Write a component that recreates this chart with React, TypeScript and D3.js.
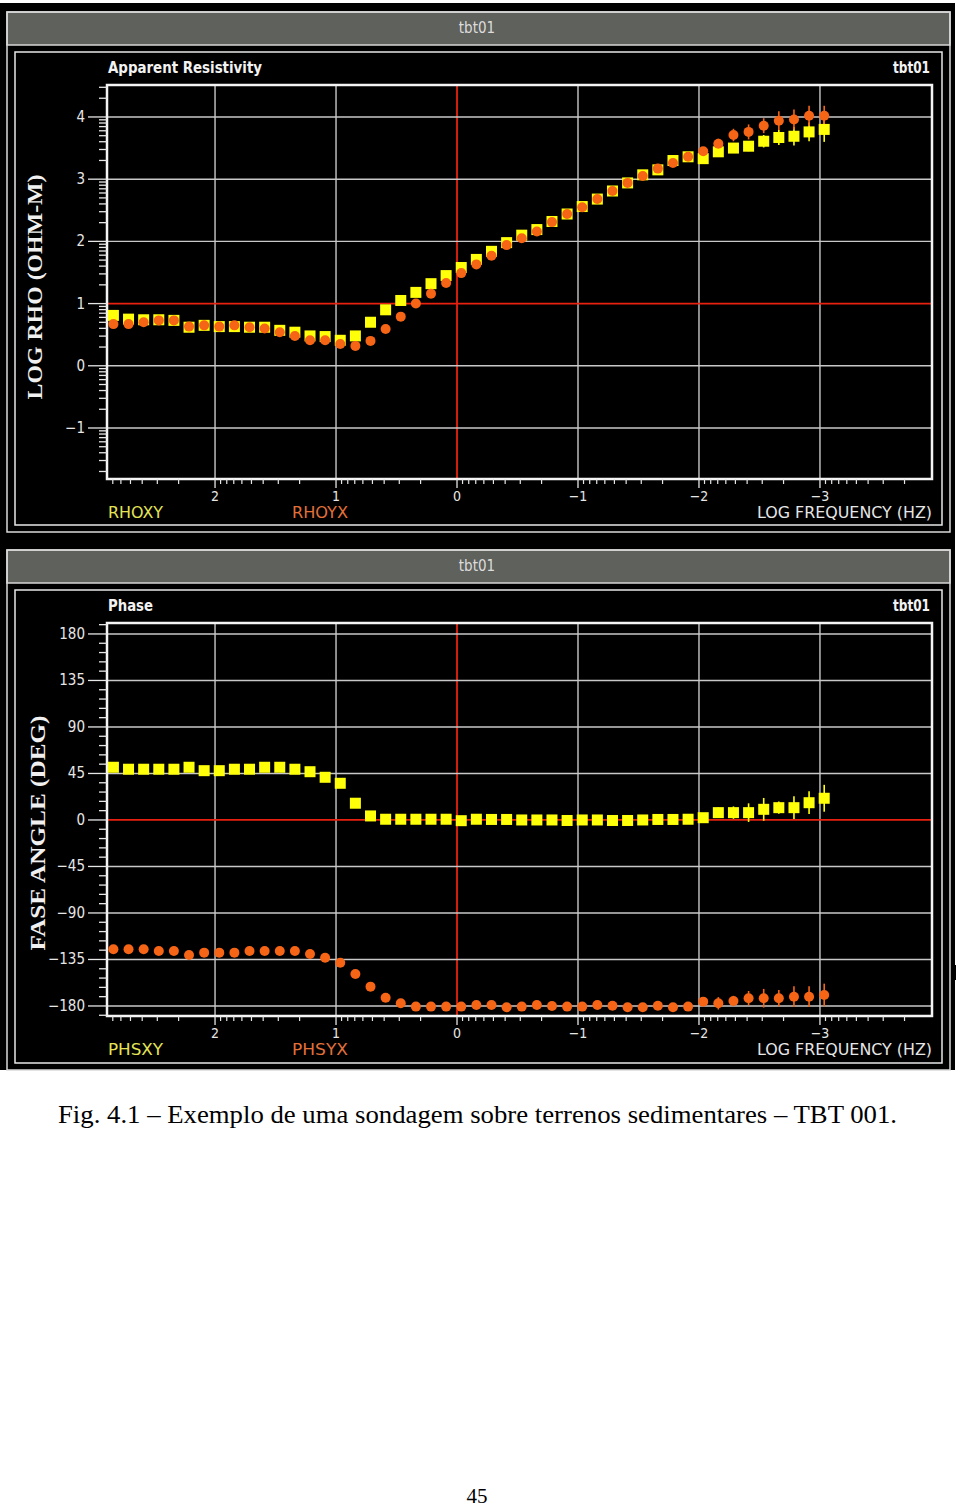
import React from 'react';
import * as d3 from 'd3';

// ---------- DATA ----------
const logFreq = [2.84, 2.715, 2.59, 2.465, 2.34, 2.215, 2.09, 1.965, 1.84, 1.715, 1.59, 1.465, 1.34, 1.215, 1.09, 0.965,
  0.84, 0.715, 0.59, 0.465, 0.34, 0.215, 0.09, -0.035, -0.16, -0.285, -0.41, -0.535, -0.66, -0.785, -0.91, -1.035,
  -1.16, -1.285, -1.41, -1.535, -1.66, -1.785, -1.91, -2.035, -2.16, -2.285, -2.41, -2.535, -2.66, -2.785, -2.91, -3.035];

const rhoXY = [0.81, 0.75, 0.74, 0.74, 0.73, 0.62, 0.65, 0.63, 0.63, 0.62, 0.62, 0.57, 0.54, 0.48, 0.47, 0.41,
  0.48, 0.70, 0.90, 1.05, 1.18, 1.32, 1.45, 1.58, 1.71, 1.84, 1.98, 2.10, 2.19, 2.32, 2.44, 2.56,
  2.68, 2.81, 2.94, 3.07, 3.15, 3.30, 3.36, 3.33, 3.44, 3.50, 3.53, 3.61, 3.67, 3.69, 3.76, 3.80];
const rhoYX = [0.67, 0.67, 0.70, 0.73, 0.73, 0.63, 0.65, 0.63, 0.65, 0.62, 0.60, 0.54, 0.48, 0.41, 0.41, 0.35,
  0.32, 0.40, 0.59, 0.79, 1.00, 1.16, 1.33, 1.49, 1.63, 1.77, 1.94, 2.05, 2.16, 2.31, 2.44, 2.55,
  2.68, 2.81, 2.94, 3.05, 3.17, 3.26, 3.36, 3.45, 3.57, 3.71, 3.76, 3.86, 3.94, 3.96, 4.02, 4.02];
const rhoXYErr = [0, 0, 0, 0, 0, 0, 0, 0, 0, 0, 0, 0, 0, 0, 0, 0,
  0, 0, 0, 0, 0, 0, 0, 0, 0, 0, 0, 0, 0, 0, 0, 0,
  0, 0, 0, 0, 0, 0, 0, 0, 0.03, 0.06, 0.08, 0.10, 0.12, 0.15, 0.15, 0.20];
const rhoYXErr = [0, 0, 0, 0, 0, 0, 0, 0, 0, 0, 0, 0, 0, 0, 0, 0,
  0.06, 0, 0, 0, 0, 0, 0, 0, 0, 0, 0, 0, 0, 0, 0, 0,
  0, 0, 0, 0, 0, 0, 0.04, 0.06, 0.08, 0.10, 0.12, 0.12, 0.15, 0.16, 0.16, 0.16];

const phsXY = [51.0, 49.1, 49.1, 49.1, 49.1, 51.0, 47.7, 47.7, 49.1, 49.1, 51.0, 51.0, 49.1, 46.7, 41.3, 35.5,
  16.2, 3.9, 0.7, 0.7, 0.7, 0.7, 0.7, -0.7, 0.7, 0.5, 0.5, 0.0, 0.0, 0.0, -0.5, 0.0,
  0.0, -0.5, -0.5, 0.0, 0.5, 0.5, 0.7, 2.2, 7.1, 7.1, 7.1, 10.3, 11.9, 11.9, 16.7, 21.0];
const phsYX = [-125.1, -125.1, -125.1, -126.8, -126.8, -130.6, -128.4, -128.4, -128.4, -126.8, -126.8, -126.8, -126.8, -129.7, -133.3, -138.2,
  -149.0, -161.3, -172.0, -177.4, -180.6, -180.6, -180.6, -180.6, -179.0, -179.0, -181.3, -180.6, -179.0, -180.0, -180.6, -180.6,
  -179.0, -179.7, -181.3, -181.3, -179.7, -181.3, -180.6, -175.8, -177.4, -175.2, -172.5, -172.5, -172.5, -171.0, -171.0, -169.4];
const phsXYErr = [0, 0, 0, 0, 0, 0, 0, 0, 0, 0, 0, 0, 0, 0, 0, 0,
  0, 0, 0, 0, 0, 0, 0, 0, 0, 0, 0, 0, 0, 0, 0, 0,
  0, 0, 0, 0, 0, 0, 0, 2, 5, 6, 9, 11, 6, 11, 11, 13];
const phsYXErr = [0, 0, 0, 0, 0, 0, 0, 0, 0, 0, 0, 0, 0, 0, 4, 4,
  0, 0, 0, 0, 0, 0, 0, 0, 0, 0, 0, 0, 0, 0, 0, 0,
  0, 0, 0, 0, 0, 0, 0, 4, 6, 5, 7, 9, 8, 10, 10, 11];

const freqTicks = [2, 1, 0, -1, -2, -3];
const freqTickLabels = ['2', '1', '0', '−1', '−2', '−3'];
const rhoTicks = [4, 3, 2, 1, 0, -1];
const rhoTickLabels = ['4', '3', '2', '1', '0', '−1'];
const phaseTicks = [180, 135, 90, 45, 0, -45, -90, -135, -180];
const phaseTickLabels = ['180', '135', '90', '45', '0', '−45', '−90', '−135', '−180'];

// ---------- STYLE ----------
const UI = "'DejaVu Sans Condensed', 'DejaVu Sans', sans-serif";
const SERIF = "'Liberation Serif', 'DejaVu Serif', serif";
const YELLOW = '#ffff0a';
const ORANGE = '#f66416';
const RED = '#e8200f';
const GRID = '#c8c8c8';
const TXT = '#e6e6e6';

const X0 = 107, X1 = 932;
const xScale = d3.scaleLinear().domain([2.893, -3.926]).range([X0, X1]);

type PanelProps = {
  top: number;
  chartTitle: string;
  titleLen: number;
  y0: number;
  y1: number;
  yScale: d3.ScaleLinear<number, number>;
  yTicks: number[];
  yTickLabels: string[];
  yMinor: number[];
  yRef: number;
  leg1: string;
  leg2: string;
  s1: number[];
  s2: number[];
  e1: number[];
  e2: number[];
};

function xMinorTicks(): number[] {
  const out: number[] = [];
  const dom = xScale.domain();
  for (let d = -4; d <= 2; d++) {
    for (let k = 2; k <= 9; k++) {
      const v = d + Math.log10(k);
      if (v <= dom[0] && v >= dom[1]) out.push(v);
    }
  }
  return out;
}

function Panel(p: PanelProps) {
  const T = p.top;
  const ys = p.yScale;
  const minorX = xMinorTicks();
  return (
    <g>
      {/* grey title bar */}
      <rect x={7} y={T} width={943} height={33} fill="#5f615c" stroke="#d6d6d6" strokeWidth={1.5} />
      <text x={477} y={T + 21} fill="#dcdcdc" fontFamily={UI} fontSize={15} textAnchor="middle">tbt01</text>
      {/* frames */}
      <rect x={7} y={T} width={943} height={520} fill="none" stroke="#dadada" strokeWidth={1.5} />
      <rect x={15} y={T + 40} width={927} height={473} fill="none" stroke="#e8e8e8" strokeWidth={1.5} />
      {/* chart titles */}
      <text x={108} y={T + 61} fill="#f2f2f2" fontFamily={UI} fontSize={16} fontWeight="bold" textLength={p.titleLen} lengthAdjust="spacingAndGlyphs">{p.chartTitle}</text>
      <text x={930} y={T + 61} fill="#f2f2f2" fontFamily={UI} fontSize={16} fontWeight="bold" textAnchor="end" textLength={37} lengthAdjust="spacingAndGlyphs">tbt01</text>
      {/* grid */}
      {freqTicks.map((t, i) => (
        <line key={'gx' + i} x1={xScale(t)} x2={xScale(t)} y1={p.y0} y2={p.y1}
          stroke={t === 0 ? RED : GRID} strokeWidth={t === 0 ? 1.8 : 1.4} />
      ))}
      {p.yTicks.map((t, i) => (
        <line key={'gy' + i} x1={X0} x2={X1} y1={ys(t)} y2={ys(t)}
          stroke={t === p.yRef ? RED : GRID} strokeWidth={t === p.yRef ? 1.8 : 1.4} />
      ))}
      {/* plot frame */}
      <rect x={X0} y={p.y0} width={X1 - X0} height={p.y1 - p.y0} fill="none" stroke="#f4f4f4" strokeWidth={2.5} />
      {/* y ticks */}
      {p.yTicks.map((t, i) => (
        <g key={'yt' + i}>
          <line x1={88} x2={X0} y1={ys(t)} y2={ys(t)} stroke={TXT} strokeWidth={1.3} />
          <text x={85} y={ys(t)} fill={TXT} fontFamily={UI} fontSize={15} textAnchor="end" dominantBaseline="central">{p.yTickLabels[i]}</text>
        </g>
      ))}
      {p.yMinor.map((t, i) => (
        <line key={'ym' + i} x1={99} x2={X0} y1={ys(t)} y2={ys(t)} stroke={TXT} strokeWidth={1.3} />
      ))}
      {/* x ticks */}
      {freqTicks.map((t, i) => (
        <g key={'xt' + i}>
          <line x1={xScale(t)} x2={xScale(t)} y1={p.y1} y2={p.y1 + 9} stroke={TXT} strokeWidth={1.3} />
          <text x={xScale(t)} y={p.y1 + 22} fill={TXT} fontFamily={UI} fontSize={14} textAnchor="middle">{freqTickLabels[i]}</text>
        </g>
      ))}
      {minorX.map((t, i) => (
        <line key={'xm' + i} x1={xScale(t)} x2={xScale(t)} y1={p.y1} y2={p.y1 + 5} stroke={TXT} strokeWidth={1.2} />
      ))}
      {/* legends and x title */}
      <text x={108} y={p.y1 + 39} fill="#e4e456" fontFamily={UI} fontSize={16} textLength={55} lengthAdjust="spacingAndGlyphs">{p.leg1}</text>
      <text x={292} y={p.y1 + 39} fill="#e2703a" fontFamily={UI} fontSize={16} textLength={56} lengthAdjust="spacingAndGlyphs">{p.leg2}</text>
      <text x={932} y={p.y1 + 39} fill={TXT} fontFamily={UI} fontSize={16} textAnchor="end" textLength={175} lengthAdjust="spacingAndGlyphs">LOG FREQUENCY (HZ)</text>
      {/* error bars */}
      {logFreq.map((f, i) => p.e1[i] > 0 ? (
        <line key={'e1' + i} x1={xScale(f)} x2={xScale(f)} y1={ys(p.s1[i] - p.e1[i])} y2={ys(p.s1[i] + p.e1[i])} stroke={YELLOW} strokeWidth={1.6} />
      ) : null)}
      {logFreq.map((f, i) => p.e2[i] > 0 ? (
        <line key={'e2' + i} x1={xScale(f)} x2={xScale(f)} y1={ys(p.s2[i] - p.e2[i])} y2={ys(p.s2[i] + p.e2[i])} stroke={ORANGE} strokeWidth={1.6} />
      ) : null)}
      {/* markers */}
      {logFreq.map((f, i) => (
        <rect key={'s1' + i} x={xScale(f) - 5.5} y={ys(p.s1[i]) - 5.5} width={11} height={11} fill={YELLOW} />
      ))}
      {logFreq.map((f, i) => (
        <circle key={'s2' + i} cx={xScale(f)} cy={ys(p.s2[i])} r={5} fill={ORANGE} />
      ))}
    </g>
  );
}

function YTitle({ x, y, text, len }: { x: number; y: number; text: string; len: number }) {
  return (
    <text transform={`translate(${x},${y}) rotate(-90)`} fill="#f0f0f0" fontFamily={SERIF} fontWeight="bold" fontSize={20}
      textAnchor="middle" dominantBaseline="central" textLength={len} lengthAdjust="spacingAndGlyphs">{text}</text>
  );
}

export default function App() {
  const rhoScale = d3.scaleLinear().domain([4.514, -1.82]).range([85, 479]);
  const phScale = d3.scaleLinear().domain([190.6, -189.7]).range([623, 1016]);

  const rhoMinor: number[] = [];
  for (let d = -2; d <= 4; d++) {
    for (let k = 2; k <= 9; k++) {
      const v = d + Math.log10(k);
      if (v >= -1.82 && v <= 4.5) rhoMinor.push(v);
    }
  }
  const phMinor: number[] = [];
  for (let v = -189; v <= 189; v += 9) {
    if (v % 45 !== 0) phMinor.push(v);
  }

  return (
    <svg width={960} height={1507} style={{ position: 'absolute', left: 0, top: 0, background: '#ffffff' }}>
      <rect x={0} y={3} width={955} height={1067} fill="#000000" />
      <Panel top={12} chartTitle="Apparent Resistivity" titleLen={154}
        y0={85} y1={479} yScale={rhoScale} yTicks={rhoTicks} yTickLabels={rhoTickLabels} yMinor={rhoMinor} yRef={1}
        leg1="RHOXY" leg2="RHOYX" s1={rhoXY} s2={rhoYX} e1={rhoXYErr} e2={rhoYXErr} />
      <Panel top={550} chartTitle="Phase" titleLen={45}
        y0={623} y1={1016} yScale={phScale} yTicks={phaseTicks} yTickLabels={phaseTickLabels} yMinor={phMinor} yRef={0}
        leg1="PHSXY" leg2="PHSYX" s1={phsXY} s2={phsYX} e1={phsXYErr} e2={phsYXErr} />
      <YTitle x={35} y={287} text="LOG RHO (OHM-M)" len={225} />
      <YTitle x={38} y={833} text="FASE ANGLE (DEG)" len={235} />
      <rect x={952} y={965} width={4} height={15} fill="#000000" />
      <text x={58} y={1123} fill="#000000" fontFamily={SERIF} fontSize={25} textLength={839} lengthAdjust="spacingAndGlyphs">
        Fig. 4.1 – Exemplo de uma sondagem sobre terrenos sedimentares – TBT 001.
      </text>
      <text x={477} y={1503} fill="#000000" fontFamily={SERIF} fontSize={21} textAnchor="middle">45</text>
    </svg>
  );
}
